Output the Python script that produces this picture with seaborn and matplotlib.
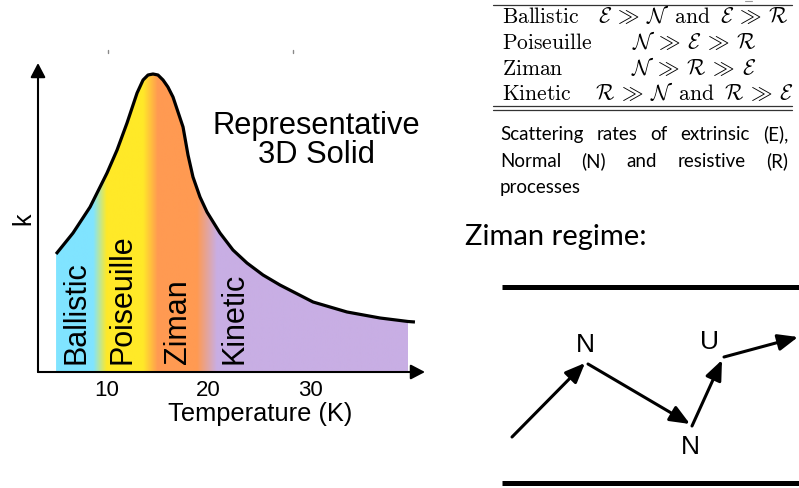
import numpy as np
import matplotlib
matplotlib.use("Agg")
import matplotlib.pyplot as plt
import seaborn as sns
import pandas as pd

# ---- thermal conductivity curve of a representative 3D solid ----
temperature = [4.98, 6.65, 8.33, 10.0, 10.99, 11.97, 12.96, 13.55, 14.04, 14.53,
               15.02, 15.52, 16.0, 16.50, 17.49, 17.98, 18.47, 19.16, 19.85, 21.13,
               22.41, 23.79, 25.37, 27.04, 30.30, 33.65, 36.90, 39.66, 40.34]
conductivity = [1.18, 1.39, 1.65, 1.99, 2.22, 2.49, 2.79, 2.92, 2.97, 2.98,
                2.97, 2.92, 2.85, 2.75, 2.45, 2.17, 1.95, 1.75, 1.60, 1.39,
                1.22, 1.09, 0.97, 0.87, 0.70, 0.60, 0.54, 0.505, 0.50]
fill_end = 39.66

regimes = ["Ballistic", "Poiseuille", "Ziman", "Kinetic"]
regime_colors = ["#80e4ff", "#ffe928", "#ff9a52", "#c8aee4"]
# temperature windows over which one regime colour blends into the next
blend_windows = [(8.65, 9.97), (13.55, 15.0), (18.87, 20.84)]
regime_label_T = [6.95, 11.55, 16.95, 22.6]
x_ticks = [10, 20, 30]

# ---- scattering-rate table ----
table_names = ["Ballistic", "Poiseuille", "Ziman", "Kinetic"]
table_rules = [r"$\mathcal{E} \:\gg\: \mathcal{N}\;\;\mathrm{and}\;\;\mathcal{E} \:\gg\: \mathcal{R}$",
               r"$\mathcal{N} \:\gg\: \mathcal{E} \:\gg\: \mathcal{R}$",
               r"$\mathcal{N} \:\gg\: \mathcal{R} \:\gg\: \mathcal{E}$",
               r"$\mathcal{R} \:\gg\: \mathcal{N}\;\;\mathrm{and}\;\;\mathcal{R} \:\gg\: \mathcal{E}$"]
caption_lines = [["Scattering", "rates", "of", "extrinsic", "(E),"],
                 ["Normal", "(N)", "and", "resistive", "(R)"],
                 ["processes"]]

# ---- Ziman-regime phonon path sketch (pixel frame of the sketch) ----
path_x = [512, 585, 588, 690, 692, 722, 724, 798]
path_y = [437, 363, 364, 424, 426, 360, 357, 337]
event_labels = ["N", "N", "U"]
event_x = [585, 690, 710]
event_y = [345, 447, 342]

sns.set_style("white")
plt.rcParams["font.family"] = ["Liberation Sans", "DejaVu Sans"]
plt.rcParams["mathtext.fontset"] = "cm"
for key in ("text.color", "axes.labelcolor", "xtick.color", "ytick.color"):
    plt.rcParams[key] = "black"

W, H = 799, 488
fig = plt.figure(figsize=(W / 100, H / 100), dpi=100)

# overlay in pixel coordinates for the right-hand annotations
ov = fig.add_axes([0, 0, 1, 1])
ov.set_xlim(0, W)
ov.set_ylim(H, 0)
ov.axis("off")
ov.patch.set_visible(False)

# ---- left panel ----
left, right, top, bottom = 38, 425, 63, 372
ax = fig.add_axes([left / W, (H - bottom) / H, (right - left) / W, (bottom - top) / H])
ax.patch.set_visible(False)

df = pd.DataFrame({"T": temperature, "k": conductivity})
fill_df = df[df["T"] <= fill_end]

poly = ax.fill_between(fill_df["T"], 0, fill_df["k"], facecolor="none", edgecolor="none")

# colour gradient across the regimes, clipped to the area under the curve
tg = np.linspace(temperature[0], fill_end, 900)
xp = [temperature[0]]
for a, b in blend_windows:
    xp += [a, b]
xp.append(fill_end)
rgb = [matplotlib.colors.to_rgb(c) for c in regime_colors]
fp = [rgb[0]]
for i in range(len(blend_windows)):
    fp += [rgb[i], rgb[i + 1]]
fp.append(rgb[-1])
fp = np.array(fp)
img = np.stack([np.interp(tg, xp, fp[:, c]) for c in range(3)], axis=-1)[None, :, :]
im = ax.imshow(img, extent=[temperature[0], fill_end, 0, 3.05], aspect="auto",
               origin="lower", interpolation="bilinear", zorder=1)
im.set_clip_path(poly.get_paths()[0], transform=ax.transData)

sns.lineplot(data=df, x="T", y="k", color="black", linewidth=2.3, ax=ax, zorder=3,
             sort=True, estimator=None)
ax.lines[-1].set_solid_capstyle("butt")
ax.lines[-1].set_solid_joinstyle("round")

ax.set_xlim(3.20, 41.33)
ax.set_ylim(0, 3.09)
for s in ax.spines.values():
    s.set_visible(False)
ax.set_yticks([])
ax.set_xticks(x_ticks)
ax.set_xticklabels([str(t) for t in x_ticks])
ax.tick_params(axis="x", length=0, pad=6, labelsize=16)

arrow_kw = dict(arrowstyle="-|>,head_length=0.86,head_width=0.45", mutation_scale=10,
                lw=1.5, color="black", shrinkA=0, shrinkB=0)
ax.annotate("", xy=(1, 0), xytext=(0, 0), xycoords="axes fraction", arrowprops=arrow_kw)
ax.annotate("", xy=(0, 1), xytext=(0, 0), xycoords="axes fraction", arrowprops=arrow_kw)

ax.set_xlabel("Temperature (K)", fontsize=18.3)
ax.xaxis.set_label_coords((260 - left) / (right - left), -(414 - bottom) / (bottom - top))
ax.xaxis.label.set_va("center")
ax.set_ylabel("k", fontsize=18)
ax.yaxis.set_label_coords((23 - left) / (right - left), (bottom - 219) / (bottom - top))
ax.yaxis.label.set_va("center")

for name, t in zip(regimes, regime_label_T):
    ax.text(t, 0.08, name, rotation=90, ha="center", va="bottom", fontsize=22, zorder=4)

ov.text(316, 126, "Representative", ha="center", va="center", fontsize=22.2)
ov.text(316, 155, "3D Solid", ha="center", va="center", fontsize=22.2)

# faint marks above the plot
for x in (108, 293):
    ov.plot([x, x], [49.5, 53], color="#8a8a8a", lw=1)

# ---- scattering-rate table ----
ov.plot([493, 792], [5, 5], color="#333333", lw=0.9)
ov.plot([493, 792], [106, 106], color="#333333", lw=0.9)
ov.plot([493, 792], [109.5, 109.5], color="#333333", lw=0.9)
ov.plot([745, 752], [1, 1], color="#999999", lw=0.8)
row_base = [23, 49, 75, 100]
for name, rule, yb in zip(table_names, table_rules, row_base):
    ov.text(502, yb, r"$\mathrm{%s}$" % name, ha="left", va="baseline", fontsize=15.5)
    ov.text(694, yb, rule, ha="center", va="baseline", fontsize=15.5)

# justified caption
renderer = fig.canvas.get_renderer()
cap_base = [140, 167, 193]
for words, yb in zip(caption_lines, cap_base):
    arts = [ov.text(0, yb, w, ha="left", va="baseline", fontsize=13.5,
                    family=["Lato", "DejaVu Sans"]) for w in words]
    widths = [a.get_window_extent(renderer).width for a in arts]
    if len(words) > 1:
        gap = (788 - 500 - sum(widths)) / (len(words) - 1)
    else:
        gap = 0
    x = 500
    for a, w in zip(arts, widths):
        a.set_x(x)
        x += w + gap

ov.text(465, 245, "Ziman regime:", ha="left", va="baseline", fontsize=21,
        family=["Lato", "DejaVu Sans"])

# ---- Ziman regime sketch ----
ov.plot([502, W], [286.5, 286.5], color="black", lw=3.6, solid_capstyle="butt")
ov.plot([502, W], [483, 483], color="black", lw=3.6, solid_capstyle="butt")
seg_kw = dict(arrowstyle="-|>,head_length=1.2,head_width=0.5", mutation_scale=10,
              lw=2.2, color="black", shrinkA=0, shrinkB=0)
for i in range(0, len(path_x), 2):
    ov.annotate("", xy=(path_x[i + 1], path_y[i + 1]), xytext=(path_x[i], path_y[i]),
                xycoords="data", arrowprops=seg_kw)
for lab, x, y in zip(event_labels, event_x, event_y):
    ov.text(x, y, lab, ha="center", va="center", fontsize=19)

fig.savefig("out.png", dpi=100)
